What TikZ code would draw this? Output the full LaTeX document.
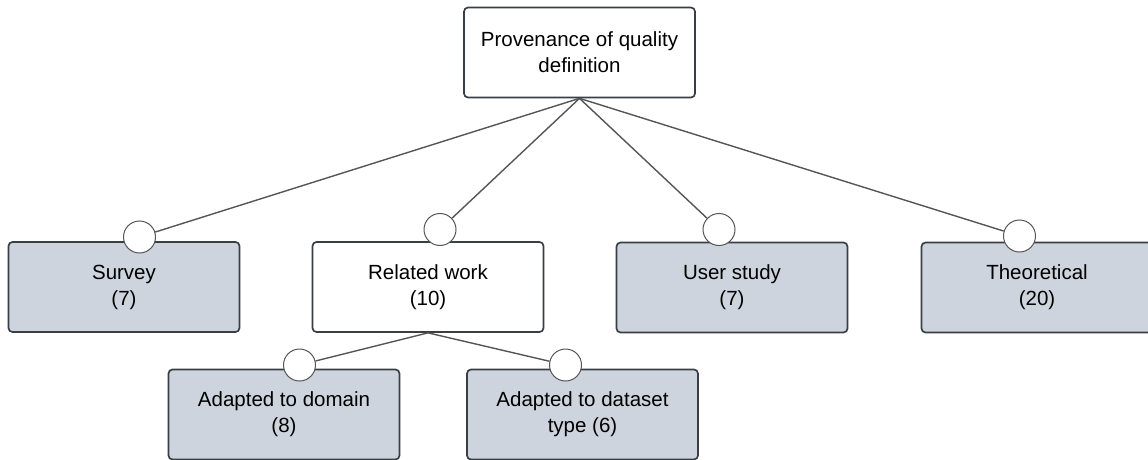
\documentclass[tikz,border=0pt]{standalone}
\usepackage{fontspec}
\setmainfont{Liberation Sans}
\definecolor{boxfill}{HTML}{CED4DD}
\definecolor{boxline}{HTML}{3A3F46}
\definecolor{linkgray}{HTML}{555555}
\begin{document}
\begin{tikzpicture}[x=1pt,y=-1pt,
    box/.style={draw=boxline,line width=1.7pt,rounded corners=4pt,minimum width=231pt,minimum height=90pt,align=center,inner sep=0pt,font=\fontsize{20.5}{26}\selectfont},
    greybox/.style={box,fill=boxfill},
    knob/.style={circle,draw=linkgray,fill=white,line width=1pt,minimum size=32pt,inner sep=0pt},
    link/.style={draw=linkgray,line width=1.4pt}]
    \useasboundingbox(0,0)rectangle(1148,460);
    % boxes
    \node[box](prov)at(579.5,52.5){Provenance of quality\\definition};
    \node[greybox](survey)at(124,287){Survey\\(7)};
    \node[box](related)at(428,287){Related work\\(10)};
    \node[greybox](user)at(732,287.5){User study\\(7)};
    \node[greybox](theo)at(1037,287.5){Theoretical\\(20)};
    \node[greybox](domain)at(284,414.5){Adapted to domain\\(8)};
    \node[greybox](dataset)at(582.5,414.5){Adapted to dataset\\type (6)};
    % connection circles
    \node[knob](ksurvey)at(139.5,237){};
    \node[knob](krelated)at(440,229.5){};
    \node[knob](kuser)at(719,229.5){};
    \node[knob](ktheo)at(1019.5,236){};
    \node[knob](kdomain)at(299.5,365){};
    \node[knob](kdataset)at(565.5,365){};
    % links
    \foreach \k in {ksurvey,krelated,kuser,ktheo}
        \draw[link](prov.south)--(\k);
    \foreach \k in {kdomain,kdataset}
        \draw[link](related.south)--(\k);
\end{tikzpicture}
\end{document}
